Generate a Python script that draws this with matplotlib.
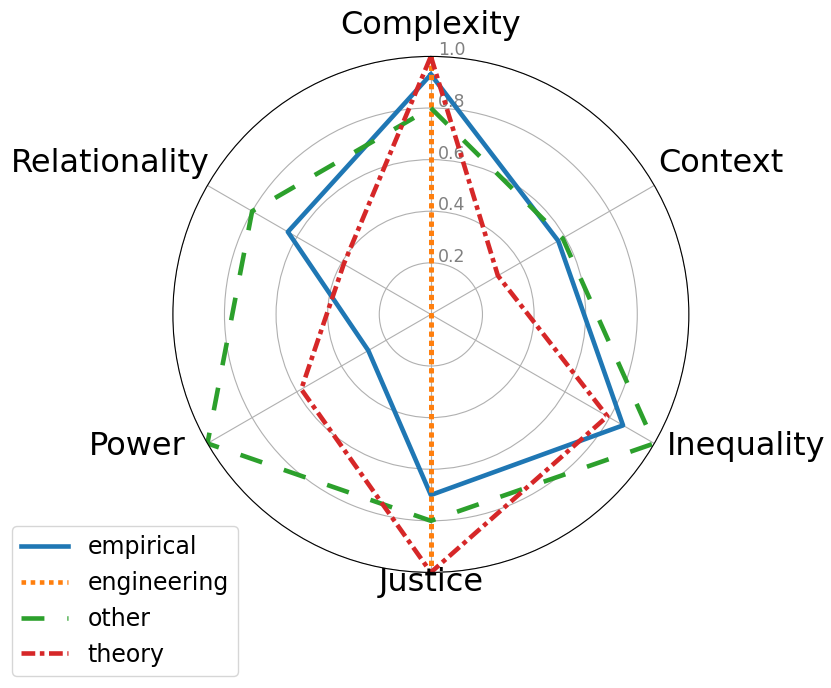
import numpy as np
import matplotlib.pyplot as plt
import matplotlib.transforms as mtransforms

# категории и значения по группам
categories = ['Complexity', 'Context', 'Inequality', 'Justice', 'Power', 'Relationality']
empirical = [0.93, 0.57, 0.86, 0.70, 0.28, 0.64]
engineering = [1.0, 0.0, 0.0, 1.0, 0.0, 0.0]
other = [0.80, 0.59, 1.0, 0.80, 1.0, 0.80]
theory = [1.0, 0.30, 0.79, 1.0, 0.58, 0.39]

series = [
    ('empirical', empirical, '-'),
    ('engineering', engineering, (0, (1, 1))),
    ('other', other, (0, (5, 5))),
    ('theory', theory, (0, (3, 1, 1, 1))),
]

# смещения подписей категорий (пиксели) и выравнивание
label_offsets = [(0, 22), (4, 13), (13, -12), (0, -19), (-22, -12), (2, 13)]
label_ha = ['center', 'left', 'left', 'center', 'right', 'right']

angles = np.linspace(0, 2 * np.pi, len(categories), endpoint=False)
angles_closed = np.concatenate([angles, angles[:1]])

fig = plt.figure(figsize=(8.31, 6.88), dpi=100)
ax = fig.add_axes([0.208, 0.168, 0.621, 0.75], projection='polar')
ax.set_theta_offset(np.pi / 2)
ax.set_theta_direction(-1)

for name, vals, ls in series:
    v = list(vals) + [vals[0]]
    ax.plot(angles_closed, v, linestyle=ls, linewidth=3.3, label=name)

ax.set_ylim(0, 1)
ax.set_yticks([0.2, 0.4, 0.6, 0.8, 1.0])
ax.set_yticklabels(['0.2', '0.4', '0.6', '0.8', '1.0'], color='grey', fontsize=12.5)
ax.set_rlabel_position(0)
shift = mtransforms.ScaledTranslation(7 / 100, -3 / 100, fig.dpi_scale_trans)
for lab in ax.get_yticklabels():
    lab.set_transform(lab.get_transform() + shift)

ax.set_xticks(angles)
ax.set_xticklabels([])
for cat, ang, off, ha in zip(categories, angles, label_offsets, label_ha):
    ax.annotate(cat, xy=(ang, 1.0), xytext=off, textcoords='offset pixels',
                ha=ha, va='baseline', fontsize=23)

ax.legend(loc='lower left', bbox_to_anchor=(0.0, 0.0), bbox_transform=fig.transFigure,
          fontsize=17, handlelength=2)

fig.savefig('out.png', dpi=100)
